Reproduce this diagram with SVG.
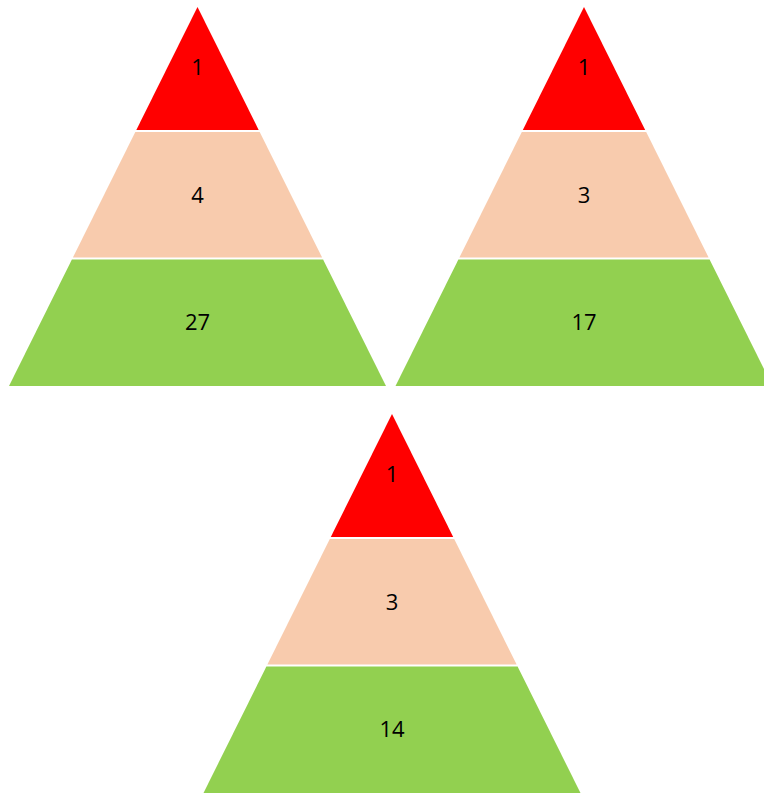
<svg xmlns="http://www.w3.org/2000/svg" width="764" height="793" viewBox="0 0 764 793">
<style>
.top{fill:#FF0000}
.mid{fill:#F8CBAD}
.bot{fill:#92D050}
text{font-family:"Open Sans","Liberation Sans",sans-serif;font-size:22px;fill:#000;text-anchor:middle}
</style>
<defs>
<polygon id="l1" points="0,0 -61.2,123 61.2,123"/>
<polygon id="l2" points="-62.2,125 62.2,125 124.6,250.5 -124.6,250.5"/>
<polygon id="l3" points="-125.6,252.5 125.6,252.5 188.5,379 -188.5,379"/>
</defs>
<rect width="764" height="793" fill="#fff"/>
<g id="pyramid1" transform="translate(197.5,7)">
<use href="#l1" class="top"/><use href="#l2" class="mid"/><use href="#l3" class="bot"/>
<text x="0" y="68">1</text><text x="0" y="196">4</text><text x="0" y="323">27</text>
</g>
<g id="pyramid2" transform="translate(584,7)">
<use href="#l1" class="top"/><use href="#l2" class="mid"/><use href="#l3" class="bot"/>
<text x="0" y="68">1</text><text x="0" y="196">3</text><text x="0" y="323">17</text>
</g>
<g id="pyramid3" transform="translate(392,414)">
<use href="#l1" class="top"/><use href="#l2" class="mid"/><use href="#l3" class="bot"/>
<text x="0" y="68">1</text><text x="0" y="196">3</text><text x="0" y="323">14</text>
</g>
<g id="connectors"/>
</svg>
